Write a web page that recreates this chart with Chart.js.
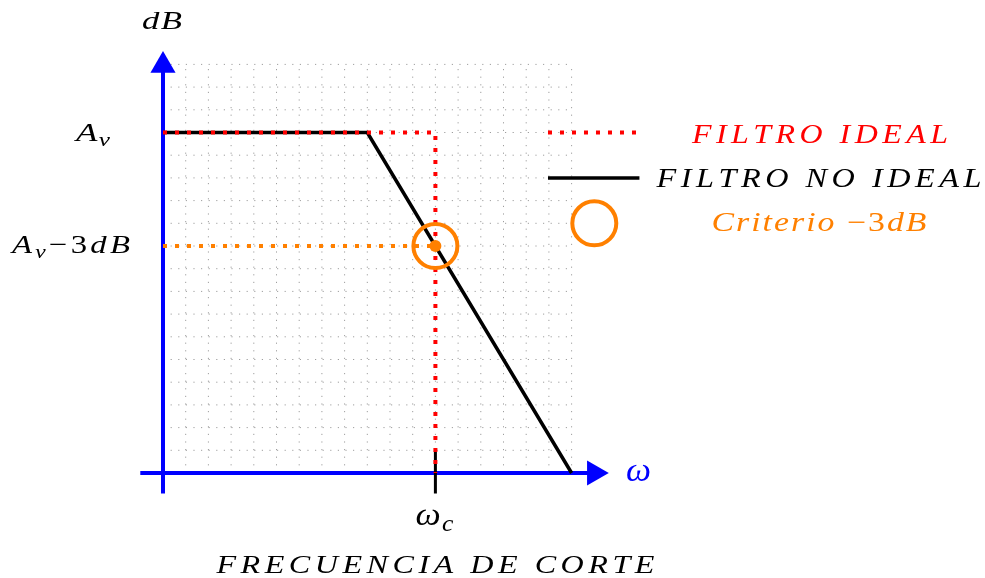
<!DOCTYPE html>
<html>
<head>
<meta charset="utf-8">
<script src="https://cdn.jsdelivr.net/npm/chart.js@4.4.1/dist/chart.umd.min.js"></script>
<style>
  html, body { margin: 0; padding: 0; background: #fff; }
  #wrap { width: 985px; height: 578px; position: relative; }
</style>
</head>
<body>
<div id="wrap"><canvas id="filterChart"></canvas></div>
<script>
// --- DATA (grid units: 1 unit = one grid square) ---
const idealX = [0, 12, 12];
const idealY = [15, 15, 0];
const realX = [0, 9, 18];
const realY = [15, 15, 0];
const minus3dbX = [0, 12];
const minus3dbY = [10, 10];
const cutoffPoint = [12, 10];
const gainTickValues = [15, 10];
const gainTickLabels = ['A_v', 'A_v−3dB'];
const freqTickValues = [12];
const freqTickLabels = ['ω_c'];
const legendLabels = ['FILTRO IDEAL', 'FILTRO NO IDEAL', 'Criterio −3dB'];
const gridMax = 18;

// --- colours / layout ---
const RED = '#ff0000', BLUE = '#0000ff', ORANGE = '#ff8000', BLACK = '#000000';
const UNIT = 22.7;          // px per grid unit
const ORIGIN_X = 163, ORIGIN_Y = 473;
const W = 985, H = 578;
const FONT = '"Liberation Serif", "DejaVu Serif", serif';

function pts(xs, ys) {
    return xs.map((x, i) => ({ x: x, y: ys[i] }));
}

// math-ish italic text: '_' makes the next char a subscript.
// Text starts at x0 and is stretched horizontally to fill totalW (CM glyphs are wider).
function drawMath(ctx, str, x0, baseY, size, color, totalW, gapEm) {
    const runs = [];
    for (let i = 0; i < str.length; i++) {
        if (str[i] === '_') { runs.push({ t: str[i + 1], sub: true }); i++; }
        else runs.push({ t: str[i], sub: false });
    }
    const fontFor = r => {
        const s = r.sub ? size * 0.72 : size;
        const upright = /[0-9−]/.test(r.t);
        return (upright ? '' : 'italic ') + s + 'px ' + FONT;
    };
    const gap = size * (gapEm || 0.04);
    let w = 0;
    runs.forEach((r, i) => {
        ctx.font = fontFor(r);
        r.w = ctx.measureText(r.t).width;
        w += r.w + (i < runs.length - 1 ? gap : 0);
    });
    const sx = totalW ? totalW / w : 1;
    ctx.save();
    ctx.translate(x0, baseY);
    ctx.scale(sx, 1);
    ctx.fillStyle = color;
    ctx.textAlign = 'left';
    ctx.textBaseline = 'alphabetic';
    let x = 0;
    runs.forEach(r => {
        ctx.font = fontFor(r);
        ctx.fillText(r.t, x, r.sub ? size * 0.2 : 0);
        x += r.w + gap;
    });
    ctx.restore();
}

function drawCentered(ctx, str, cx, baseY, size, color, totalW, gapEm) {
    drawMath(ctx, str, cx - totalW / 2, baseY, size, color, totalW, gapEm);
}

// dotted grey grid behind everything
const gridPlugin = {
    id: 'dottedGrid',
    beforeDatasetsDraw(chart) {
        const ctx = chart.ctx, xs = chart.scales.x, ys = chart.scales.y;
        ctx.save();
        ctx.strokeStyle = 'rgba(0,0,0,0.38)';
        ctx.lineWidth = 1;
        ctx.setLineDash([1.2, 6.4]);
        for (let i = 0; i <= gridMax; i++) {
            ctx.beginPath();
            ctx.moveTo(xs.getPixelForValue(i), ys.getPixelForValue(0));
            ctx.lineTo(xs.getPixelForValue(i), ys.getPixelForValue(gridMax));
            ctx.stroke();
            ctx.beginPath();
            ctx.moveTo(xs.getPixelForValue(0), ys.getPixelForValue(i));
            ctx.lineTo(xs.getPixelForValue(gridMax), ys.getPixelForValue(i));
            ctx.stroke();
        }
        ctx.restore();
    }
};

// axis names, tick labels and the legend on the right
const labelPlugin = {
    id: 'labels',
    afterDatasetsDraw(chart) {
        const ctx = chart.ctx, xs = chart.scales.x, ys = chart.scales.y;
        ctx.save();
        drawMath(ctx, 'dB', 142, 29, 25, BLACK, 40);
        drawMath(ctx, 'ω', 626, 481, 34, BLUE, 25);

        drawMath(ctx, gainTickLabels[0], 76, ys.getPixelForValue(gainTickValues[0]) + 8, 26, BLACK, 34);
        drawMath(ctx, gainTickLabels[1], 12, ys.getPixelForValue(gainTickValues[1]) + 7, 26, BLACK, 118, 0.1);
        drawMath(ctx, freqTickLabels[0], xs.getPixelForValue(freqTickValues[0]) - 20, 525, 32, BLACK, 38);
        drawCentered(ctx, 'FRECUENCIA DE CORTE', xs.getPixelForValue(freqTickValues[0]), 573, 26, BLACK, 438, 0.14);

        // legend samples
        const lx0 = xs.getPixelForValue(16.96), lx1 = xs.getPixelForValue(20.9);
        ctx.lineCap = 'butt';
        ctx.strokeStyle = RED;
        ctx.lineWidth = 4;
        ctx.setLineDash([4, 8]);
        ctx.beginPath();
        ctx.moveTo(lx0, ys.getPixelForValue(15));
        ctx.lineTo(lx1, ys.getPixelForValue(15));
        ctx.stroke();
        ctx.setLineDash([]);
        ctx.strokeStyle = BLACK;
        ctx.lineWidth = 3.5;
        ctx.beginPath();
        ctx.moveTo(lx0, ys.getPixelForValue(13));
        ctx.lineTo(lx1 + 2, ys.getPixelForValue(13));
        ctx.stroke();
        ctx.strokeStyle = ORANGE;
        ctx.lineWidth = 4;
        ctx.beginPath();
        ctx.arc(xs.getPixelForValue(19), ys.getPixelForValue(11), 22, 0, Math.PI * 2);
        ctx.stroke();

        drawCentered(ctx, legendLabels[0], 820, ys.getPixelForValue(15) + 10, 27, RED, 256, 0.14);
        drawCentered(ctx, legendLabels[1], 819, ys.getPixelForValue(13) + 9, 27, BLACK, 325, 0.14);
        drawCentered(ctx, legendLabels[2], 819, ys.getPixelForValue(11) + 8, 27, ORANGE, 215, 0.06);
        ctx.restore();
    }
};

const lineBase = { showLine: true, pointRadius: 0, borderCapStyle: 'butt', borderJoinStyle: 'miter', tension: 0 };

new Chart(document.getElementById('filterChart'), {
    type: 'scatter',
    data: {
        datasets: [
            { label: 'cutoff', data: [{ x: cutoffPoint[0], y: cutoffPoint[1] }], pointRadius: 6,
              pointBackgroundColor: ORANGE, pointBorderWidth: 0, order: 0 },
            { label: legendLabels[2], data: [{ x: cutoffPoint[0], y: cutoffPoint[1] }], pointRadius: 22,
              pointBorderWidth: 4, pointBorderColor: ORANGE, pointBackgroundColor: 'rgba(0,0,0,0)', order: 1 },
            Object.assign({}, lineBase, { label: '-3dB', data: pts(minus3dbX, minus3dbY), borderColor: ORANGE,
              borderWidth: 4, borderDash: [4, 8], order: 2 }),
            Object.assign({}, lineBase, { label: legendLabels[0], data: pts(idealX, idealY), borderColor: RED,
              borderWidth: 4, borderDash: [4, 8], order: 3 }),
            Object.assign({}, lineBase, { label: 'wc tick', data: pts([12, 12], [1, -0.9]), borderColor: BLACK,
              borderWidth: 3, order: 4 }),
            Object.assign({}, lineBase, { label: legendLabels[1], data: pts(realX, realY), borderColor: BLACK,
              borderWidth: 3.5, order: 5 }),
            Object.assign({}, lineBase, { label: 'y axis', data: pts([0, 0], [-0.9, 17.95]), borderColor: BLUE,
              borderWidth: 4, pointRadius: [0, 14.5], pointStyle: 'triangle', pointBackgroundColor: BLUE,
              pointBorderWidth: 0, order: 6 }),
            Object.assign({}, lineBase, { label: 'x axis', data: pts([-1, 19], [0, 0]), borderColor: BLUE,
              borderWidth: 4, pointRadius: [0, 14.5], pointStyle: 'triangle', pointRotation: 90,
              pointBackgroundColor: BLUE, pointBorderWidth: 0, order: 7 })
        ]
    },
    options: {
        responsive: true,
        maintainAspectRatio: false,
        animation: false,
        events: [],
        layout: { padding: 0, autoPadding: false },
        plugins: { legend: { display: false }, tooltip: { enabled: false } },
        scales: {
            x: { type: 'linear', display: false, min: -ORIGIN_X / UNIT, max: (W - ORIGIN_X) / UNIT },
            y: { type: 'linear', display: false, min: -(H - ORIGIN_Y) / UNIT, max: ORIGIN_Y / UNIT }
        }
    },
    plugins: [gridPlugin, labelPlugin]
});
</script>
</body>
</html>
